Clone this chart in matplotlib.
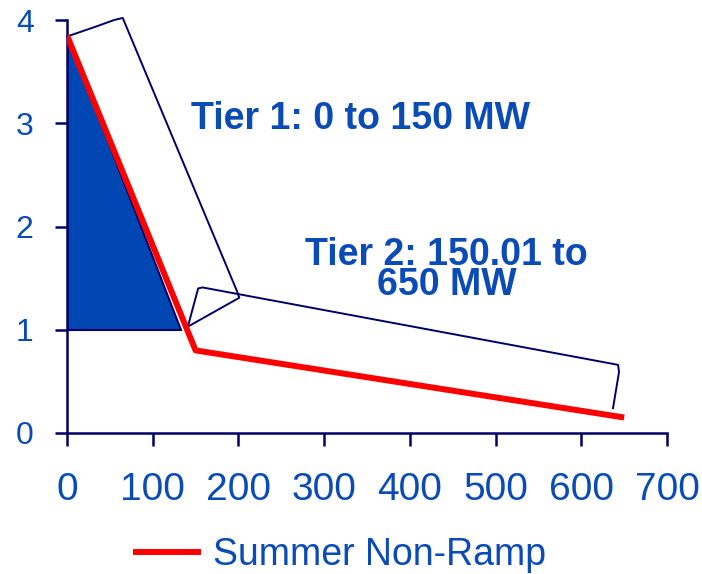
import numpy as np
import matplotlib.pyplot as plt

# data
x_red = [0, 150, 650]
y_red = [3.85, 0.8, 0.15]

tri_x = [0, 0, 133]
tri_y = [3.85, 1.0, 1.0]

# hand-drawn tier outlines (data coordinates)
tier1_x = [0, 35, 55, 65, 198, 201, 141]
tier1_y = [3.84, 3.94, 4.0, 4.02, 1.38, 1.31, 1.03]
tier2_x = [141, 153, 158, 643, 644, 637]
tier2_y = [1.03, 1.40, 1.41, 0.66, 0.59, 0.24]

x_ticks = [0, 100, 200, 300, 400, 500, 600, 700]
y_ticks = [0, 1, 2, 3, 4]

navy = '#000066'
blue = '#0a4bb5'

plt.rcParams['font.family'] = ['Liberation Sans', 'DejaVu Sans']

fig = plt.figure(figsize=(7.02, 5.74), dpi=100)
ax = fig.add_axes([67/702, 1-433/574, 600/702, 413/574])

ax.fill(tri_x, tri_y, color='#0047b3', ec=navy, lw=1.5, zorder=2)
ax.plot(tier1_x, tier1_y, color=navy, lw=1.4, zorder=3, clip_on=False)
ax.plot(tier2_x, tier2_y, color=navy, lw=1.4, zorder=3)
line, = ax.plot(x_red, y_red, color='#ff0000', lw=4.3, zorder=4,
                solid_capstyle='butt', label='Summer Non-Ramp')

ax.text(342, 2.94, 'Tier 1: 0 to 150 MW', color=blue, fontsize=27,
        fontweight='bold', ha='center', va='baseline')
ax.text(443, 1.9, 'Tier 2: 150.01 to\n650 MW', color=blue, fontsize=27,
        fontweight='bold', ha='center', va='top', multialignment='center',
        linespacing=0.8)

ax.set_xlim(0, 700)
ax.set_ylim(0, 4)
ax.set_xticks(x_ticks)
ax.set_yticks(y_ticks)
for s in ['top', 'right']:
    ax.spines[s].set_visible(False)
for s in ['left', 'bottom']:
    ax.spines[s].set_color(navy)
    ax.spines[s].set_linewidth(1.8)
ax.tick_params(axis='both', colors=navy, length=9, width=1.8,
               labelcolor=blue)
ax.tick_params(axis='x', pad=19, labelsize=28)
ax.tick_params(axis='y', pad=15, labelsize=23)

fig.legend(handles=[line], loc='center', bbox_to_anchor=(0.484, 0.033),
           frameon=False, fontsize=27, labelcolor=blue, handlelength=1.8,
           handletextpad=0.32, borderpad=0, borderaxespad=0)

fig.savefig('out.png', dpi=100)
